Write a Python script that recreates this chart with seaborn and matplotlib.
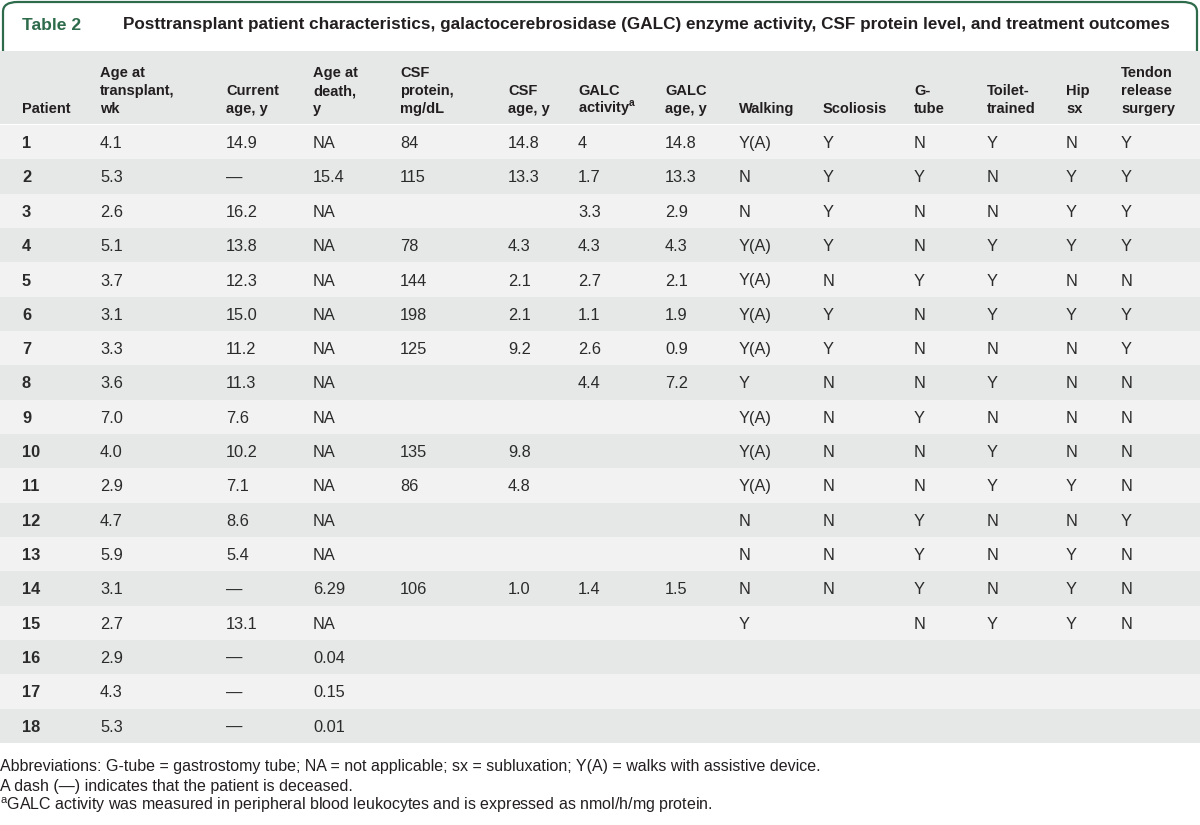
import numpy as np
import matplotlib
matplotlib.use("Agg")
import matplotlib.pyplot as plt
from matplotlib.colors import ListedColormap
from matplotlib.patches import FancyBboxPatch, Rectangle
from matplotlib.transforms import blended_transform_factory
import seaborn as sns

sns.set_theme(style="white")
plt.rcParams["font.family"] = ["Liberation Sans", "DejaVu Sans"]
plt.rcParams["mathtext.fontset"] = "custom"
plt.rcParams["mathtext.rm"] = "Liberation Sans"
plt.rcParams["mathtext.bf"] = "Liberation Sans:bold"

# ---- table data ----
patients = [str(i) for i in range(1, 19)]
age_transplant = ["4.1", "5.3", "2.6", "5.1", "3.7", "3.1", "3.3", "3.6", "7.0",
                  "4.0", "2.9", "4.7", "5.9", "3.1", "2.7", "2.9", "4.3", "5.3"]
current_age = ["14.9", "—", "16.2", "13.8", "12.3", "15.0", "11.2", "11.3", "7.6",
               "10.2", "7.1", "8.6", "5.4", "—", "13.1", "—", "—", "—"]
age_death = ["NA", "15.4", "NA", "NA", "NA", "NA", "NA", "NA", "NA",
             "NA", "NA", "NA", "NA", "6.29", "NA", "0.04", "0.15", "0.01"]
csf_protein = ["84", "115", "", "78", "144", "198", "125", "", "",
               "135", "86", "", "", "106", "", "", "", ""]
csf_age = ["14.8", "13.3", "", "4.3", "2.1", "2.1", "9.2", "", "",
           "9.8", "4.8", "", "", "1.0", "", "", "", ""]
galc_activity = ["4", "1.7", "3.3", "4.3", "2.7", "1.1", "2.6", "4.4", "",
                 "", "", "", "", "1.4", "", "", "", ""]
galc_age = ["14.8", "13.3", "2.9", "4.3", "2.1", "1.9", "0.9", "7.2", "",
            "", "", "", "", "1.5", "", "", "", ""]
walking = ["Y(A)", "N", "N", "Y(A)", "Y(A)", "Y(A)", "Y(A)", "Y", "Y(A)",
           "Y(A)", "Y(A)", "N", "N", "N", "Y", "", "", ""]
scoliosis = ["Y", "Y", "Y", "Y", "N", "Y", "Y", "N", "N",
             "N", "N", "N", "N", "N", "", "", "", ""]
g_tube = ["N", "Y", "N", "N", "Y", "N", "N", "N", "Y",
          "N", "N", "Y", "Y", "Y", "N", "", "", ""]
toilet_trained = ["Y", "N", "N", "Y", "Y", "Y", "N", "Y", "N",
                  "Y", "Y", "N", "N", "N", "Y", "", "", ""]
hip_sx = ["N", "Y", "Y", "Y", "N", "Y", "N", "N", "N",
          "N", "Y", "N", "Y", "Y", "Y", "", "", ""]
tendon_release = ["Y", "Y", "Y", "Y", "N", "Y", "Y", "N", "N",
                  "N", "N", "Y", "N", "N", "N", "", "", ""]

headers = [
    ["Patient"],
    ["Age at", "transplant,", "wk"],
    ["Current", "age, y"],
    ["Age at", "death,", "y"],
    ["CSF", "protein,", "mg/dL"],
    ["CSF", "age, y"],
    ["GALC", r"activity$^{\mathbf{a}}$"],
    ["GALC", "age, y"],
    ["Walking"],
    ["Scoliosis"],
    ["G-", "tube"],
    ["Toilet-", "trained"],
    ["Hip", "sx"],
    ["Tendon", "release", "surgery"],
]
columns = [patients, age_transplant, current_age, age_death, csf_protein, csf_age,
           galc_activity, galc_age, walking, scoliosis, g_tube, toilet_trained,
           hip_sx, tendon_release]

title_tag = "Table 2"
title = ("Posttransplant patient characteristics, galactocerebrosidase (GALC) "
         "enzyme activity, CSF protein level, and treatment outcomes")
notes = [
    "Abbreviations: G-tube = gastrostomy tube; NA = not applicable; sx = subluxation; "
    "Y(A) = walks with assistive device.",
    "A dash (—) indicates that the patient is deceased.",
    r"$^{\mathrm{a}}$GALC activity was measured in peripheral blood leukocytes and is "
    "expressed as nmol/h/mg protein.",
]

# ---- layout (pixels) ----
W, H = 1200, 825
col_x = [22, 100, 226, 313, 400, 508, 578, 665, 739, 823, 914, 987, 1066, 1121]
GREEN = "#2d6b4b"
TXT = "#231f20"
HEAD_BG = "#e6e7e7"
ROW_LIGHT = "#f2f2f2"
ROW_DARK = "#e6e7e7"


def fx(x):
    return x / W


def fy(y):
    return 1 - y / H


fig = plt.figure(figsize=(W / 100, H / 100), dpi=100)
fig.patch.set_facecolor("white")

# title tab with rounded top corners (bottom hidden under header band)
tab = FancyBboxPatch((fx(3), fy(90)), fx(1194), (90 - 2) / H,
                     boxstyle="round,pad=0,rounding_size=0.012",
                     transform=fig.transFigure, facecolor="white",
                     edgecolor=GREEN, linewidth=1.6, zorder=1)
fig.patches.append(tab)
fig.patches.append(Rectangle((0, fy(124)), 1, (124 - 51) / H, transform=fig.transFigure,
                             facecolor=HEAD_BG, edgecolor="none", zorder=2))
fig.patches.append(Rectangle((0, fy(125)), 1, 1 / H, transform=fig.transFigure,
                             facecolor="white", edgecolor="none", zorder=2))

fig.text(fx(22), fy(25), title_tag, color=GREEN, fontsize=12.6, fontweight="bold",
         va="center", ha="left", zorder=3)
fig.text(fx(123), fy(25), title, color=TXT, fontsize=12.35, fontweight="bold",
         va="center", ha="left", zorder=3)

# header labels, bottom aligned on baselines
baselines = [77, 95, 113]
for x, lines in zip(col_x, headers):
    for k, line in enumerate(lines):
        y = baselines[3 - len(lines) + k]
        fig.text(fx(x), fy(y), line, color=TXT, fontsize=10.5, fontweight="bold",
                 va="baseline", ha="left", zorder=3)

# table body: banded rows drawn as a heatmap
ax = fig.add_axes([0, fy(743), 1, (743 - 125) / H])
band = np.array([[i % 2] for i in range(len(patients))])
sns.heatmap(band, cmap=ListedColormap([ROW_LIGHT, ROW_DARK]), cbar=False, ax=ax,
            xticklabels=False, yticklabels=False, linewidths=0)
ax.set_xlabel("")
ax.set_ylabel("")
trans = blended_transform_factory(ax.transAxes, ax.transData)
for c, (x, values) in enumerate(zip(col_x, columns)):
    for i, v in enumerate(values):
        if not v:
            continue
        ax.text(fx(x), i + 0.5, v, transform=trans, color="#2b2b2b",
                fontsize=11.8, fontweight="bold" if c == 0 else "normal",
                va="center_baseline", ha="left")

# footnotes
for y, line in zip([767, 786, 805], notes):
    fig.text(fx(0), fy(y), line, color=TXT, fontsize=11.5, va="center", ha="left")

fig.savefig("out.png", dpi=100)
